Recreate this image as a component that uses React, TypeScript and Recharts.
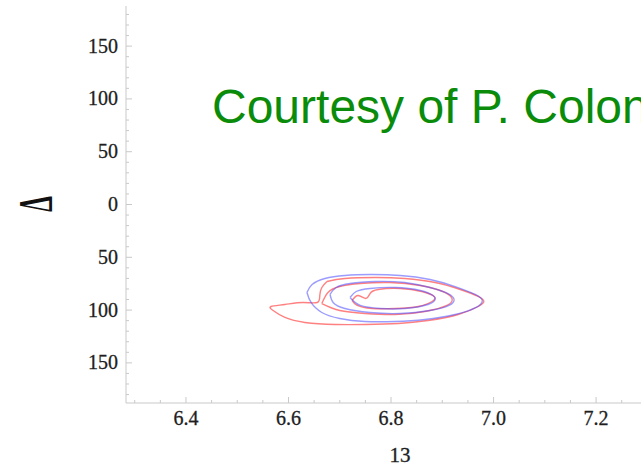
import * as React from "react";
import { LineChart, Line, XAxis, YAxis } from "recharts";

// contour levels, [x, Δ]
const blueOuter = [
  [6.636, -83.3], [6.646, -75.8], [6.671, -70.1], [6.71, -67.2], [6.759, -66.3],
  [6.818, -67.2], [6.876, -71.0], [6.925, -77.7], [6.964, -85.2], [6.978, -90.9],
  [6.966, -97.5], [6.925, -104.2], [6.866, -108.9], [6.808, -110.8], [6.749, -110.8],
  [6.7, -108.0], [6.665, -102.3], [6.644, -92.8],
];
const redOuter = [
  [6.675, -72.9], [6.71, -70.1], [6.769, -69.1], [6.827, -70.1], [6.886, -73.9],
  [6.935, -80.5], [6.97, -87.1], [6.981, -91.9], [6.97, -96.6], [6.931, -104.2],
  [6.872, -109.9], [6.814, -112.7], [6.749, -113.6], [6.691, -113.6], [6.632, -111.7],
  [6.593, -107.0], [6.57, -100.4], [6.566, -96.6], [6.593, -94.7], [6.628, -92.8],
  [6.656, -92.8], [6.661, -86.2], [6.665, -78.6],
];
const blueMiddle = [
  [6.681, -85.2], [6.693, -78.6], [6.72, -74.8], [6.769, -72.9], [6.827, -73.9],
  [6.876, -78.6], [6.911, -84.3], [6.923, -90.0], [6.913, -95.6], [6.876, -100.4],
  [6.818, -103.2], [6.759, -102.3], [6.71, -98.5], [6.687, -92.8],
];
const redMiddle = [
  [6.665, -93.8], [6.677, -83.3], [6.7, -77.7], [6.74, -74.8], [6.798, -73.9],
  [6.857, -76.7], [6.901, -82.4], [6.919, -89.0], [6.909, -95.6], [6.866, -101.3],
  [6.808, -104.2], [6.749, -103.2], [6.7, -100.4],
];
const blueInner = [
  [6.72, -88.1], [6.732, -82.4], [6.759, -79.5], [6.808, -78.6], [6.857, -81.4],
  [6.882, -86.2], [6.886, -90.0], [6.872, -94.7], [6.827, -98.5], [6.779, -98.5],
  [6.74, -95.6],
];
const redInner = [
  [6.724, -90.9], [6.736, -86.2], [6.751, -89.0], [6.759, -84.3], [6.775, -80.5],
  [6.818, -79.5], [6.86, -82.4], [6.884, -87.1], [6.88, -91.9], [6.853, -96.6],
  [6.808, -98.5], [6.763, -98.5], [6.734, -95.6],
];

const xMajorTicks = [6.4, 6.6, 6.8, 7.0, 7.2];
const xTickLabels = ["6.4", "6.6", "6.8", "7.0", "7.2"];
const yMajorTicks = [-150, -100, -50, 0, 50, 100, 150];
const yTickLabels = ["150", "100", "50", "0", "50", "100", "150"];

const xMinorTicks = Array.from({ length: 22 }, (_, i) => +(6.3 + i * 0.05).toFixed(2));
const yMinorTicks = Array.from({ length: 37 }, (_, i) => -180 + i * 10);

const closed = (c: number[][]) => [...c, c[0]].map(([x, y]) => ({ x, y }));

const RED = "#ff4a4a";
const BLUE = "#4a4aff";
const FRAME = "#c9c9c9";
const LABEL_FONT = "'Liberation Serif', 'Times New Roman', serif";

const majorIndex = (list: number[], v: number) =>
  list.findIndex((t) => Math.abs(t - v) < 1e-6);

const BottomTick = (props: any) => {
  const { x, y, payload } = props;
  const i = majorIndex(xMajorTicks, payload.value);
  return (
    <g>
      <line x1={x} y1={y} x2={x} y2={y - (i >= 0 ? 6 : 3)} stroke={FRAME} />
      {i >= 0 && (
        <text x={x} y={y + 22} textAnchor="middle" fontFamily={LABEL_FONT} fontSize={20} fill="#1e1e1e" stroke="#1e1e1e" strokeWidth={0.3}>
          {xTickLabels[i]}
        </text>
      )}
    </g>
  );
};

const TopTick = (props: any) => {
  const { x, y, payload } = props;
  const i = majorIndex(xMajorTicks, payload.value);
  return <line x1={x} y1={y} x2={x} y2={y + (i >= 0 ? 6 : 3)} stroke={FRAME} />;
};

const LeftTick = (props: any) => {
  const { x, y, payload } = props;
  const i = majorIndex(yMajorTicks, payload.value);
  return (
    <g>
      <line x1={x} y1={y} x2={x + (i >= 0 ? 6 : 3)} y2={y} stroke={FRAME} />
      {i >= 0 && (
        <text x={x - 8} y={y + 6.5} textAnchor="end" fontFamily={LABEL_FONT} fontSize={20} fill="#1e1e1e" stroke="#1e1e1e" strokeWidth={0.3}>
          {yTickLabels[i]}
        </text>
      )}
    </g>
  );
};

export default function App() {
  return (
    <div style={{ position: "absolute", left: 0, top: 0, width: 641, height: 466, overflow: "hidden", background: "#fff" }}>
      <LineChart width={690} height={466} margin={{ top: 6, right: 16, bottom: 0, left: 0 }}>
        <XAxis
          xAxisId="bottom"
          type="number"
          dataKey="x"
          domain={[6.283, 7.352]}
          allowDataOverflow
          ticks={xMinorTicks}
          interval={0}
          tickSize={0}
          tickMargin={0}
          tick={<BottomTick />}
          axisLine={{ stroke: FRAME }}
          height={63}
        />
        <XAxis
          xAxisId="top"
          orientation="top"
          type="number"
          dataKey="x"
          domain={[6.283, 7.352]}
          allowDataOverflow
          ticks={xMinorTicks}
          interval={0}
          tickSize={0}
          tickMargin={0}
          tick={<TopTick />}
          axisLine={{ stroke: FRAME }}
          height={0}
        />
        <YAxis
          yAxisId="left"
          type="number"
          domain={[-188, 188]}
          allowDataOverflow
          ticks={yMinorTicks}
          interval={0}
          tickSize={0}
          tickMargin={0}
          tick={<LeftTick />}
          axisLine={{ stroke: FRAME }}
          width={126}
        />
        <Line xAxisId="top" yAxisId="left" data={closed(redOuter)} dataKey="y" stroke="none" dot={false} isAnimationActive={false} />
        <Line xAxisId="bottom" yAxisId="left" data={closed(redOuter)} dataKey="y" type="natural" stroke={RED} strokeOpacity={0.7} strokeWidth={1.4} dot={false} isAnimationActive={false} />
        <Line xAxisId="bottom" yAxisId="left" data={closed(redMiddle)} dataKey="y" type="natural" stroke={RED} strokeOpacity={0.7} strokeWidth={1.4} dot={false} isAnimationActive={false} />
        <Line xAxisId="bottom" yAxisId="left" data={closed(redInner)} dataKey="y" type="natural" stroke={RED} strokeOpacity={0.7} strokeWidth={1.4} dot={false} isAnimationActive={false} />
        <Line xAxisId="bottom" yAxisId="left" data={closed(blueOuter)} dataKey="y" type="natural" stroke={BLUE} strokeOpacity={0.55} strokeWidth={1.4} dot={false} isAnimationActive={false} />
        <Line xAxisId="bottom" yAxisId="left" data={closed(blueMiddle)} dataKey="y" type="natural" stroke={BLUE} strokeOpacity={0.55} strokeWidth={1.4} dot={false} isAnimationActive={false} />
        <Line xAxisId="bottom" yAxisId="left" data={closed(blueInner)} dataKey="y" type="natural" stroke={BLUE} strokeOpacity={0.55} strokeWidth={1.4} dot={false} isAnimationActive={false} />
        <text transform="translate(35,204) rotate(-90) scale(0.52,1)" y={16.5} textAnchor="middle" fontFamily={LABEL_FONT} fontWeight="bold" fontSize={48} fill="#111">
          Δ
        </text>
        <text x={400} y={462} textAnchor="middle" fontFamily={LABEL_FONT} fontSize={21} fill="#1e1e1e" stroke="#1e1e1e" strokeWidth={0.3}>
          13
        </text>
        <text x={212} y={123} fontFamily="'Liberation Sans', Arial, sans-serif" fontSize={48} fill="#0a8c0a">
          Courtesy of P. Colon
        </text>
      </LineChart>
    </div>
  );
}
